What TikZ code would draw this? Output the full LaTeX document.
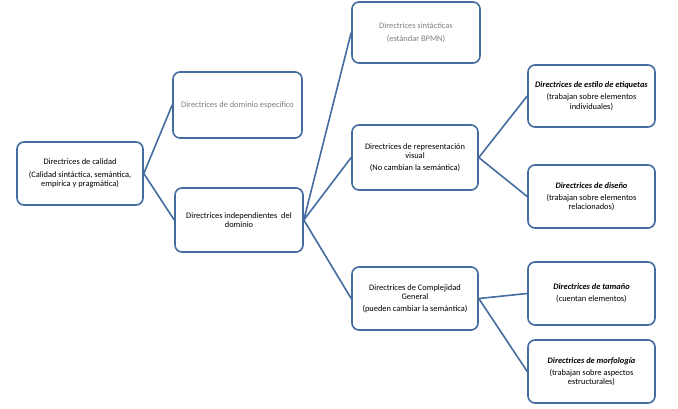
\documentclass[tikz,border=0pt]{standalone}
\usepackage{fontspec}
\setmainfont{Carlito}
\definecolor{boxblue}{RGB}{68,108,160}
\definecolor{graytext}{RGB}{128,128,128}
\begin{document}
\begin{tikzpicture}[x=1pt,y=-1pt,
  box/.style={draw=boxblue, line width=1.6pt, rounded corners=7pt, fill=white,
    align=center, font=\fontsize{8.4}{9.2}\selectfont, inner sep=2pt},
  link/.style={draw=boxblue, line width=1.6pt}]
\useasboundingbox (0,0) rectangle (678,408);
\node[box, minimum width=126pt, minimum height=63pt] (b1) at (80,173.5)
  {Directrices de calidad\\[3pt](Calidad sintáctica, semántica,\\empírica y pragmática)};
\node[box, minimum width=129pt, minimum height=66pt, text=graytext] (b2) at (237.5,105)
  {Directrices de dominio específico};
\node[box, minimum width=128pt, minimum height=64pt] (b3) at (239,220)
  {Directrices independientes\ \ del\\dominio};
\node[box, minimum width=128pt, minimum height=61pt, text=graytext] (b4) at (416,32.5)
  {Directrices sintácticas\\[4pt](estándar BPMN)};
\node[box, minimum width=126pt, minimum height=65pt] (b5) at (415,157.5)
  {Directrices de representación\\visual\\[3pt](No cambian la semántica)};
\node[box, minimum width=126pt, minimum height=63pt] (b6) at (415,298.5)
  {Directrices de Complejidad\\General\\[3pt](pueden cambiar la semántica)};
\node[box, minimum width=127pt, minimum height=62pt] (b7) at (591.5,96)
  {\textbf{\textit{Directrices de estilo de etiquetas}}\\[3pt](trabajan sobre elementos\\individuales)};
\node[box, minimum width=127pt, minimum height=63pt] (b8) at (591.5,196.5)
  {\textbf{\textit{Directrices de diseño}}\\[3pt](trabajan sobre elementos\\relacionados)};
\node[box, minimum width=127pt, minimum height=63pt] (b9) at (591.5,293.5)
  {\textbf{\textit{Directrices de tamaño}}\\[3pt](cuentan elementos)};
\node[box, minimum width=127pt, minimum height=63pt] (b10) at (591.5,371.5)
  {\textbf{\textit{Directrices de morfología}}\\[3pt](trabajan sobre aspectos\\estructurales)};
\draw[link] (b1.east) -- (b2.west);
\draw[link] (b1.east) -- (b3.west);
\draw[link] (b3.east) -- (b4.west);
\draw[link] (b3.east) -- (b5.west);
\draw[link] (b3.east) -- (b6.west);
\draw[link] (b5.east) -- (b7.west);
\draw[link] (b5.east) -- (b8.west);
\draw[link] (b6.east) -- (b9.west);
\draw[link] (b6.east) -- (b10.west);
\end{tikzpicture}
\end{document}
